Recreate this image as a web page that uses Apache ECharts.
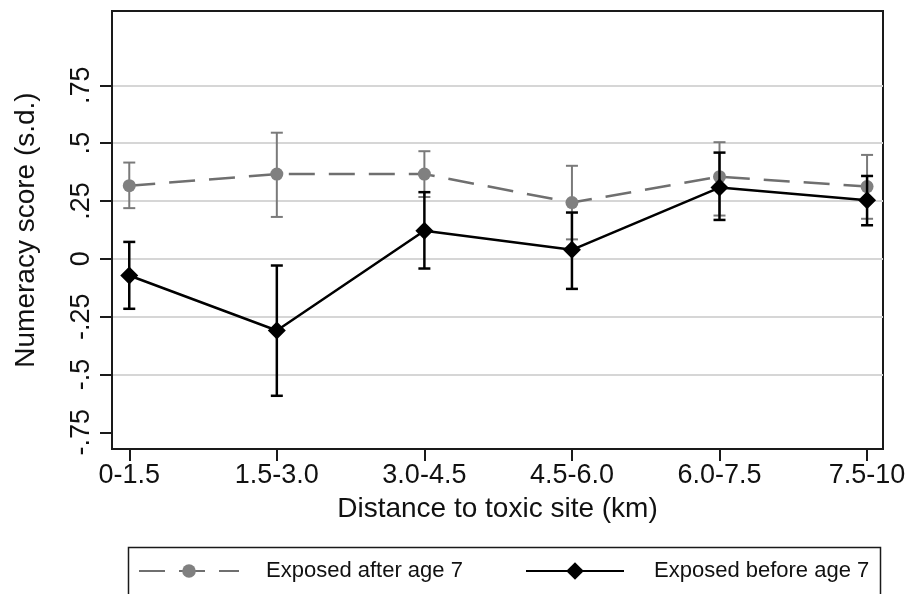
<!DOCTYPE html>
<html>
<head>
<meta charset="utf-8">
<title>Numeracy score by distance to toxic site</title>
<script src="https://cdn.jsdelivr.net/npm/echarts@6/dist/echarts.min.js"></script>
<style>
  html, body { margin: 0; padding: 0; background: #fff; }
  #chart { width: 910px; height: 594px; }
</style>
</head>
<body>
<div id="chart"></div>
<script>
const categories = ['0-1.5', '1.5-3.0', '3.0-4.5', '4.5-6.0', '6.0-7.5', '7.5-10']
const yTicks = [-0.75, -0.5, -0.25, 0, 0.25, 0.5, 0.75]
const gridLines = [-0.5, -0.25, 0, 0.25, 0.5, 0.75]

// exposed after age 7 (grey, dashed)
const afterMean = [0.316, 0.366, 0.366, 0.243, 0.355, 0.312]
const afterLow = [0.219, 0.181, 0.267, 0.084, 0.187, 0.173]
const afterHigh = [0.416, 0.545, 0.465, 0.402, 0.504, 0.449]

// exposed before age 7 (black, solid)
const beforeMean = [-0.072, -0.31, 0.121, 0.039, 0.308, 0.253]
const beforeLow = [-0.216, -0.592, -0.042, -0.13, 0.168, 0.145]
const beforeHigh = [0.073, -0.029, 0.288, 0.2, 0.459, 0.358]

const font = "'Liberation Sans', Arial, Helvetica, sans-serif"
const xIdx = categories.map((c, i) => i)

const fmtY = (v) => {
  if (v === 0) return '0'
  const s = String(v)
  return s.replace('0.', '.')
}

const makeErrorBar = (color, width) => (params, api) => {
  const x = api.value(0)
  const low = api.coord([x, api.value(1)])
  const high = api.coord([x, api.value(2)])
  const half = 6
  const style = { stroke: color, lineWidth: width }
  return {
    type: 'group',
    children: [
      { type: 'line', shape: { x1: high[0], y1: high[1], x2: low[0], y2: low[1] }, style: style },
      { type: 'line', shape: { x1: high[0] - half, y1: high[1], x2: high[0] + half, y2: high[1] }, style: style },
      { type: 'line', shape: { x1: low[0] - half, y1: low[1], x2: low[0] + half, y2: low[1] }, style: style }
    ]
  }
}

const chart = echarts.init(document.getElementById('chart'))

const option = {
  animation: false,
  backgroundColor: '#fff',
  textStyle: { fontFamily: font, color: '#111' },
  grid: {
    left: 112,
    right: 27,
    top: 11,
    bottom: 145,
    show: true,
    borderColor: '#1a1a1a',
    borderWidth: 2
  },
  xAxis: {
    type: 'value',
    min: -0.117,
    max: 5.108,
    name: 'Distance to toxic site (km)',
    nameLocation: 'middle',
    nameGap: 46,
    nameTextStyle: { fontSize: 28, color: '#111', fontFamily: font },
    axisLine: { onZero: false, lineStyle: { color: '#1a1a1a', width: 2 } },
    axisTick: { customValues: xIdx, length: 12, lineStyle: { color: '#1a1a1a', width: 2 } },
    axisLabel: {
      customValues: xIdx,
      formatter: (v) => categories[v],
      fontSize: 27,
      color: '#111',
      margin: 13
    },
    splitLine: { show: false }
  },
  yAxis: [
    {
      type: 'value',
      min: -0.822,
      max: 1.071,
      name: 'Numeracy score (s.d.)',
      nameLocation: 'middle',
      nameRotate: 90,
      nameGap: 72,
      nameTextStyle: { fontSize: 28, color: '#111', fontFamily: font },
      axisLine: { show: true, onZero: false, lineStyle: { color: '#1a1a1a', width: 2 } },
      axisTick: { show: true, customValues: yTicks, length: 12, lineStyle: { color: '#1a1a1a', width: 2 } },
      axisLabel: {
        customValues: yTicks,
        formatter: fmtY,
        rotate: 90,
        fontSize: 27,
        color: '#111',
        margin: 17
      },
      splitLine: { show: false }
    },
    {
      type: 'value',
      min: -0.822,
      max: 1.071,
      position: 'left',
      axisLine: { show: false },
      axisLabel: { show: false },
      axisTick: { show: false, customValues: gridLines },
      splitLine: { show: true, lineStyle: { color: '#d6d6d6', width: 2 } }
    }
  ],
  legend: [
    {
      data: ['Exposed after age 7'],
      left: 138,
      top: 558,
      padding: 0,
      itemWidth: 100,
      itemHeight: 17,
      textStyle: { fontSize: 22, color: '#111', fontFamily: font, lineHeight: 26, padding: [0, 0, 0, 22] }
    },
    {
      data: ['Exposed before age 7'],
      left: 525,
      top: 558,
      padding: 0,
      itemWidth: 98,
      itemHeight: 22,
      textStyle: { fontSize: 22, color: '#111', fontFamily: font, lineHeight: 26, padding: [0, 0, 0, 25] }
    }
  ],
  graphic: [
    {
      type: 'rect',
      left: 126,
      top: 545,
      shape: { width: 752, height: 80 },
      style: { fill: 'none', stroke: '#1a1a1a', lineWidth: 1.5 },
      silent: true
    }
  ],
  series: [
    {
      name: 'after-ci',
      type: 'custom',
      renderItem: makeErrorBar('#7a7a7a', 2),
      data: xIdx.map(i => [i, afterLow[i], afterHigh[i]]),
      encode: { x: 0, y: [1, 2] },
      z: 2
    },
    {
      name: 'Exposed after age 7',
      type: 'line',
      data: xIdx.map(i => [i, afterMean[i]]),
      symbol: 'circle',
      symbolSize: 13,
      itemStyle: { color: '#808080' },
      lineStyle: { color: '#6f6f6f', width: 2.5, type: [26, 14] },
      z: 3
    },
    {
      name: 'before-ci',
      type: 'custom',
      renderItem: makeErrorBar('#000', 2.5),
      data: xIdx.map(i => [i, beforeLow[i], beforeHigh[i]]),
      encode: { x: 0, y: [1, 2] },
      z: 4
    },
    {
      name: 'Exposed before age 7',
      type: 'line',
      data: xIdx.map(i => [i, beforeMean[i]]),
      symbol: 'diamond',
      symbolSize: 18,
      itemStyle: { color: '#000' },
      lineStyle: { color: '#000', width: 2.5 },
      z: 5
    }
  ]
}

chart.setOption(option)

window.addEventListener('resize', () => {
  chart.resize()
})
</script>
</body>
</html>
